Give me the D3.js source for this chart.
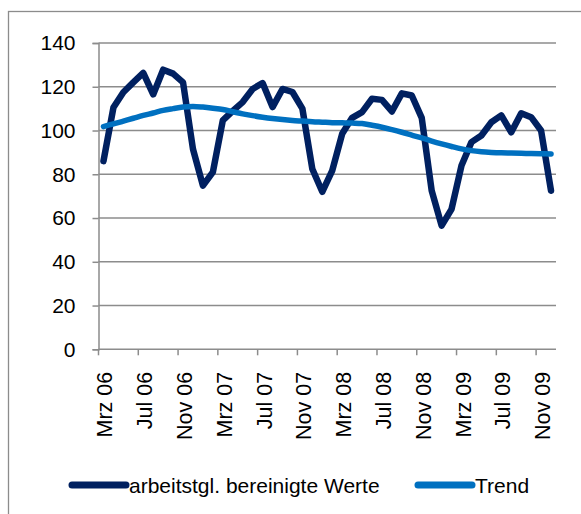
<!DOCTYPE html>
<html>
<head>
<meta charset="utf-8">
<script src="https://cdn.jsdelivr.net/npm/d3@7"></script>
<style>
	body { margin: 0; background: #fff; }
	svg { display: block; font-family: "Liberation Sans", Arial, sans-serif; }
</style>
</head>
<body>
<div id="wrapper"></div>
<script>
/////////////////////////////////////////////////
// data /////////////////////////////////////////
/////////////////////////////////////////////////

const monthNames = ["Jan", "Feb", "Mrz", "Apr", "Mai", "Jun", "Jul", "Aug", "Sep", "Okt", "Nov", "Dez"];

// Mrz 06 .. Dez 09
const months = [];
for (let y = 2006; y <= 2009; y++) {
	for (let m = 0; m < 12; m++) {
		if (y === 2006 && m < 2) continue;
		months.push(`${monthNames[m]} ${String(y).slice(2)}`);
	}
}

const werte = [
	86, 110.5, 117.5, 122, 126.3, 116.5, 127.8, 126, 122, 91.5,
	74.8, 81, 104.6, 109, 113, 119, 121.7, 110.7, 119, 117.6,
	110, 82.4, 72, 81.7, 98.5, 105.8, 108.4, 114.5, 114, 108.7,
	117, 116, 105.8, 72.5, 56.5, 64.1, 84, 94.7, 97.7, 103.8,
	106.9, 99.2, 107.9, 106.1, 100, 72.5
];

const trend = [
	101.8, 103, 104.3, 105.6, 106.9, 108, 109.2, 110, 110.7, 111,
	110.7, 110.2, 109.6, 108.6, 107.6, 106.8, 106.1, 105.5, 105, 104.6,
	104.3, 104, 103.8, 103.6, 103.5, 103.4, 103.2, 102.4, 101.5, 100.4,
	99.2, 97.9, 96.6, 95.2, 93.9, 92.7, 91.6, 90.8, 90.3, 90,
	89.8, 89.7, 89.6, 89.5, 89.4, 89.3
];

const yTicks = [0, 20, 40, 60, 80, 100, 120, 140];
const legendLabels = ["arbeitstgl. bereinigte Werte", "Trend"];

/////////////////////////////////////////////////
// dimensions ///////////////////////////////////
/////////////////////////////////////////////////

const fontSize = 21;

const dimensions = {
	width: 581,
	height: 514,
	margin: { top: 43, right: 25, bottom: 165, left: 98.5 }
};
dimensions.boundedWidth = 556 - dimensions.margin.left;
dimensions.boundedHeight = 349.3 - dimensions.margin.top;

const svg = d3.select("#wrapper").append("svg")
	.attr("width", dimensions.width)
	.attr("height", dimensions.height);

// chart frame (cut off at right/bottom)
svg.append("rect")
	.attr("x", 8.5).attr("y", 11.5)
	.attr("width", 600).attr("height", 600)
	.attr("fill", "none")
	.attr("stroke", "#8c8c8c")
	.attr("stroke-width", 1.3);

const bounds = svg.append("g")
	.attr("transform", `translate(${dimensions.margin.left},${dimensions.margin.top})`);

/////////////////////////////////////////////////
// scales ///////////////////////////////////////
/////////////////////////////////////////////////

const xScale = d3.scaleBand()
	.domain(months)
	.range([0, dimensions.boundedWidth]);

const xCenter = (i) => xScale(months[i]) + xScale.bandwidth() / 2;

const yScale = d3.scaleLinear()
	.domain([0, 140])
	.range([dimensions.boundedHeight, 0]);

/////////////////////////////////////////////////
// grid & axes //////////////////////////////////
/////////////////////////////////////////////////

bounds.append("g")
	.selectAll("line")
	.data(yTicks.filter(d => d > 0))
	.join("line")
	.attr("x1", 0)
	.attr("x2", dimensions.boundedWidth)
	.attr("y1", d => yScale(d))
	.attr("y2", d => yScale(d))
	.attr("stroke", "#8c8c8c")
	.attr("stroke-width", 1.5);

const yAxis = bounds.append("g")
	.call(d3.axisLeft(yScale).tickValues(yTicks).tickSize(6).tickPadding(17).tickFormat(d3.format("d")));
yAxis.select(".domain").attr("stroke", "#8c8c8c").attr("stroke-width", 1.5);
yAxis.selectAll(".tick line").attr("stroke", "#8c8c8c").attr("stroke-width", 1.5);
yAxis.selectAll(".tick text")
	.attr("font-size", fontSize)
	.attr("font-family", "Liberation Sans, Arial, sans-serif")
	.attr("fill", "#000");

// x axis: ticks between categories, every 4 months
const xAxis = bounds.append("g")
	.attr("transform", `translate(0,${dimensions.boundedHeight})`);

xAxis.append("line")
	.attr("x1", 0).attr("x2", dimensions.boundedWidth)
	.attr("stroke", "#8c8c8c").attr("stroke-width", 1.5);

const tickIdx = d3.range(0, months.length, 4);

xAxis.selectAll(".xtick")
	.data(tickIdx)
	.join("line")
	.attr("class", "xtick")
	.attr("x1", d => xScale(months[d]))
	.attr("x2", d => xScale(months[d]))
	.attr("y1", 0).attr("y2", 6)
	.attr("stroke", "#8c8c8c").attr("stroke-width", 1.5);

xAxis.selectAll(".xlabel")
	.data(tickIdx)
	.join("text")
	.attr("class", "xlabel")
	.attr("transform", d => `translate(${xCenter(d) + 9},22.5) rotate(-90)`)
	.attr("text-anchor", "end")
	.attr("font-size", 21.5)
	.attr("fill", "#000")
	.text(d => months[d]);

/////////////////////////////////////////////////
// lines ////////////////////////////////////////
/////////////////////////////////////////////////

const lineStraight = d3.line()
	.x((d, i) => xCenter(i))
	.y(d => yScale(d));

const lineSmooth = d3.line()
	.x((d, i) => xCenter(i))
	.y(d => yScale(d))
	.curve(d3.curveCatmullRom);

bounds.append("path")
	.datum(werte)
	.attr("d", lineStraight)
	.attr("fill", "none")
	.attr("stroke", "#002060")
	.attr("stroke-width", 6.5)
	.attr("stroke-linejoin", "round")
	.attr("stroke-linecap", "round");

bounds.append("path")
	.datum(trend)
	.attr("d", lineSmooth)
	.attr("fill", "none")
	.attr("stroke", "#0070c0")
	.attr("stroke-width", 5.5)
	.attr("stroke-linecap", "round");

/////////////////////////////////////////////////
// legend ///////////////////////////////////////
/////////////////////////////////////////////////

const legend = svg.append("g").attr("transform", "translate(0,485)");
const legendItems = [
	{ label: legendLabels[0], color: "#002060", x: 72 },
	{ label: legendLabels[1], color: "#0070c0", x: 418 }
];

const item = legend.selectAll("g")
	.data(legendItems)
	.join("g")
	.attr("transform", d => `translate(${d.x},0)`);

item.append("line")
	.attr("x1", 0).attr("x2", 54)
	.attr("stroke", d => d.color)
	.attr("stroke-width", 7)
	.attr("stroke-linecap", "round");

item.append("text")
	.attr("x", 57)
	.attr("y", 7.5)
	.attr("font-size", fontSize)
	.attr("fill", "#000")
	.text(d => d.label);
</script>
</body>
</html>
